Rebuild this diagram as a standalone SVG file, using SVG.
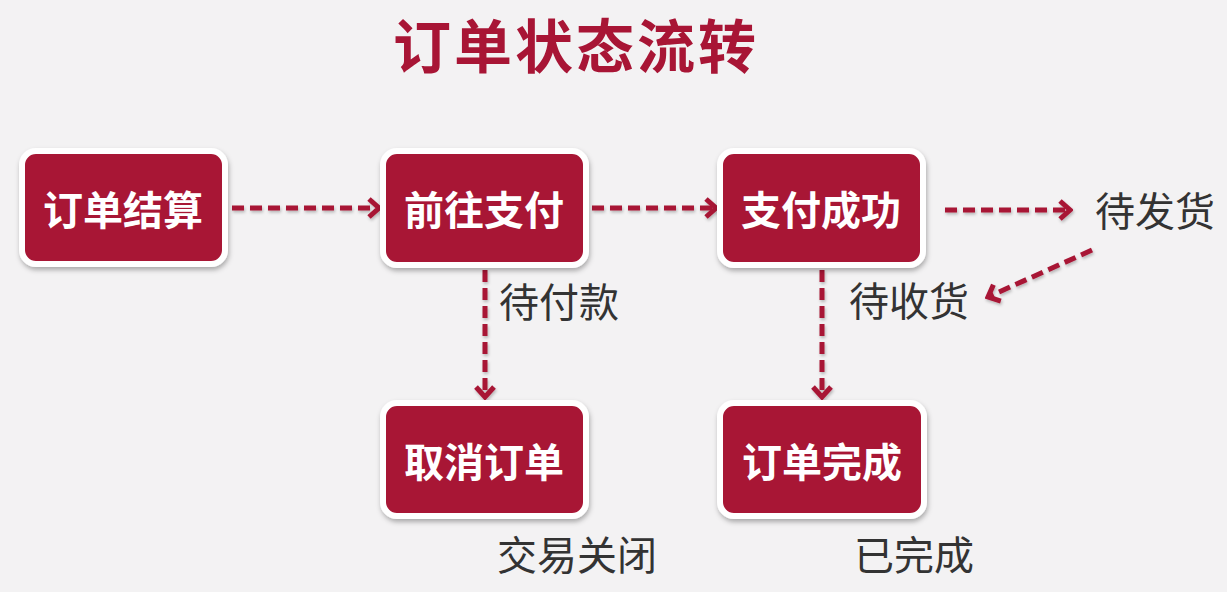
<svg xmlns="http://www.w3.org/2000/svg" width="1227" height="592" viewBox="0 0 1227 592">
<defs>
<style>
.box{fill:#a81535;stroke:#ffffff;stroke-width:6;filter:url(#sh)}
.bt{font-family:"Noto Sans CJK SC","Noto Sans",sans-serif;font-weight:bold;font-size:40px;fill:#ffffff;text-anchor:middle;dominant-baseline:central}
.lb{font-family:"Noto Sans CJK SC","Noto Sans",sans-serif;font-size:40px;fill:#333333;dominant-baseline:central}
.ln{fill:none;stroke:#a81535;stroke-width:5;stroke-dasharray:12 6;marker-end:url(#ah)}
</style>
<filter id="sh" x="-10%" y="-10%" width="120%" height="130%">
<feDropShadow dx="1" dy="3" stdDeviation="2.5" flood-color="#000" flood-opacity="0.3"/>
</filter>
<filter id="sh2" filterUnits="userSpaceOnUse" x="0" y="0" width="1227" height="592">
<feDropShadow dx="1" dy="2" stdDeviation="1.5" flood-color="#000" flood-opacity="0.25"/>
</filter>
<marker id="ah" viewBox="0 0 16 24" refX="13" refY="12" markerWidth="16" markerHeight="24" markerUnits="userSpaceOnUse" orient="auto">
<path d="M3,3 L13,12 L3,21" fill="none" stroke="#a81535" stroke-width="5" stroke-linejoin="miter"/>
</marker>
</defs>
<rect width="1227" height="592" fill="#f3f2f3"/>
<text x="576" y="68" font-family="'Noto Sans CJK SC','Noto Sans',sans-serif" font-weight="bold" font-size="58" letter-spacing="3" fill="#a81535" text-anchor="middle">订单状态流转</text>
<g id="connectors" filter="url(#sh2)">
<line class="ln" x1="232" y1="208" x2="379" y2="208"/>
<line class="ln" x1="592" y1="208" x2="716" y2="208"/>
<line class="ln" x1="945" y1="210" x2="1070" y2="210"/>
<line class="ln" x1="1092" y1="250" x2="988" y2="297"/>
<line class="ln" x1="485" y1="270" x2="485" y2="397"/>
<line class="ln" x1="822" y1="270" x2="822" y2="397"/>
</g>
<g id="n1"><rect class="box" x="22" y="151" width="203" height="113" rx="14"/><text class="bt" x="123" y="208">订单结算</text></g>
<g id="n2"><rect class="box" x="383" y="151" width="203" height="114" rx="14"/><text class="bt" x="484" y="208">前往支付</text></g>
<g id="n3"><rect class="box" x="720" y="151" width="203" height="114" rx="14"/><text class="bt" x="821" y="208">支付成功</text></g>
<g id="n4"><rect class="box" x="383" y="403" width="203" height="113" rx="14"/><text class="bt" x="484" y="460">取消订单</text></g>
<g id="n5"><rect class="box" x="720" y="403" width="204" height="113" rx="14"/><text class="bt" x="822" y="460">订单完成</text></g>
<g id="labels">
<text class="lb" x="1095" y="209">待发货</text>
<text class="lb" x="849" y="299">待收货</text>
<text class="lb" x="499" y="300">待付款</text>
<text class="lb" x="497" y="553">交易关闭</text>
<text class="lb" x="854" y="553">已完成</text>
</g>
</svg>
